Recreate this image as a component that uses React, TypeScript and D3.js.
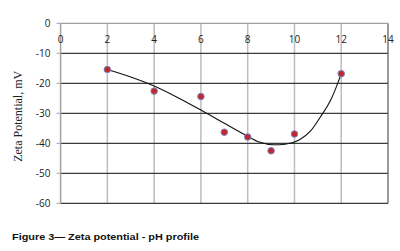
import React from "react";
import * as d3 from "d3";

const phValues = [2, 4, 6, 7, 8, 9, 10, 12];
const zetaValues = [-15.4, -22.6, -24.4, -36.3, -37.9, -42.5, -36.9, -16.8];
const trendPh = [2, 3, 4, 5, 6, 7, 7.9, 8.5, 9.1, 9.6, 10.2, 10.7, 11.1, 11.55, 11.82, 12];
const trendZeta = [-15.4, -17.9, -20.9, -24.7, -28.9, -33.3, -37.2, -39.6, -40.5, -40.3, -38.9, -35.8, -31.3, -25.6, -20.6, -16.8];
const xTicks = [0, 2, 4, 6, 8, 10, 12, 14];
const yTicks = [0, -10, -20, -30, -40, -50, -60];
const yTitle = "Zeta Potential, mV";
const caption = "Figure 3\u2014 Zeta potential - pH profile";

export default function App() {
  const W = 400, H = 251;
  const x = d3.scaleLinear().domain([0, 14]).range([60.6, 388]);
  const y = d3.scaleLinear().domain([0, -60]).range([23.3, 203.3]);
  const trend = d3
    .line<number>()
    .x((_, i) => x(trendPh[i]))
    .y((d) => y(d))
    .curve(d3.curveMonotoneX)(trendZeta);
  const tickFont = "'Open Sans', 'Liberation Sans', sans-serif";
  return (
    <svg width={W} height={H} style={{ position: "absolute", left: 0, top: 0, background: "#fff" }}>
      <rect x={0} y={0} width={W} height={H} fill="#fff" />
      {xTicks.filter((t) => t > 0 && t < 14).map((t) => (
        <line key={"vx" + t} x1={x(t)} x2={x(t)} y1={y(0)} y2={y(-60)} stroke="#bdbdbd" strokeWidth={1.5} />
      ))}
      {yTicks.filter((t) => t < 0).map((t) => (
        <line key={"hy" + t} x1={x(0)} x2={x(14)} y1={y(t)} y2={y(t)} stroke="#3a3a3a" strokeWidth={1.3} />
      ))}
      <line x1={x(14)} x2={x(14)} y1={y(0)} y2={y(-60)} stroke="#555" strokeWidth={1.2} />
      <line x1={x(0)} x2={x(14)} y1={y(0)} y2={y(0)} stroke="#a0a0a0" strokeWidth={1.2} />
      <line x1={x(0)} x2={x(0)} y1={y(0)} y2={y(-60)} stroke="#a0a0a0" strokeWidth={1.5} />
      {yTicks.map((t) => (
        <g key={"yt" + t}>
          <line x1={x(0) - 4} x2={x(0)} y1={y(t)} y2={y(t)} stroke="#a0a0a0" strokeWidth={1} />
          <text x={50.5} y={y(t)} dy="0.35em" textAnchor="end" fontFamily={tickFont} fontSize={10} fill="#222">
            {t}
          </text>
        </g>
      ))}
      {xTicks.map((t) => (
        <text key={"xt" + t} x={x(t)} y={39} dy="0.35em" textAnchor="middle" fontFamily={tickFont} fontSize={10} fill="#222">
          {t}
        </text>
      ))}
      <text
        transform={`translate(22,${(y(0) + y(-60)) / 2 + 3}) rotate(-90)`}
        textAnchor="middle"
        fontFamily="'Liberation Serif', 'DejaVu Serif', serif"
        fontSize={12}
        fill="#222"
      >
        {yTitle}
      </text>
      <path d={trend ?? ""} fill="none" stroke="#111" strokeWidth={1.1} />
      {phValues.map((p, i) => (
        <circle key={"pt" + i} cx={x(p)} cy={y(zetaValues[i])} r={3.3} fill="#c1272d" stroke="#7a8cc4" strokeWidth={1} />
      ))}
      <text x={12} y={239.5} fontFamily="'Liberation Sans', Arial, sans-serif" fontWeight="bold" fontSize={9.6} fill="#111" textLength={187} lengthAdjust="spacingAndGlyphs">
        {caption}
      </text>
    </svg>
  );
}
